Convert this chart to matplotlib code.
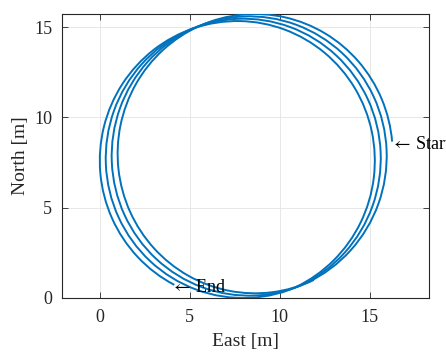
import matplotlib
matplotlib.use('Agg')
import matplotlib.pyplot as plt
from matplotlib.patches import Arc

plt.rcParams['mathtext.fontset'] = 'stix'

# Trajectory: one elliptic arc per lap, the centre
# drifting slightly south-west each lap (laps joined near the bottom-right
# point where all the laps run together).
lap_east = [8.63, 8.30, 7.97, 7.64]      # lap centre, East [m]
lap_north = [7.99, 7.86, 7.73, 7.60]     # lap centre, North [m]
lap_radius_east = [7.64, 7.64, 7.64, 7.64]
lap_radius_north = [7.73, 7.73, 7.73, 7.73]
lap_from_deg = [5.0, -65.0, -65.0, -65.0]
lap_to_deg = [295.0, 295.0, 295.0, 243.0]

start_point = (16.2, 8.5)
end_point = (3.95, 0.6)

x_ticks = [0, 5, 10, 15]
y_ticks = [0, 5, 10, 15]

serif = ['Liberation Serif', 'DejaVu Serif']
line_color = '#0072BD'
dark = '#262626'

fig = plt.figure(figsize=(4.46, 3.52), dpi=100)
ax = fig.add_axes([62 / 446, 54 / 352, 367 / 446, 284 / 352])

for e, n, rx, ry, t1, t2 in zip(lap_east, lap_north, lap_radius_east,
                                 lap_radius_north, lap_from_deg, lap_to_deg):
    ax.add_patch(Arc((e, n), 2 * rx, 2 * ry, theta1=t1, theta2=t2,
                     color=line_color, linewidth=1.4, zorder=3))

ax.text(start_point[0], start_point[1], r'$\leftarrow\,$Start', family=serif,
        fontsize=13, color='black', ha='left', va='center', zorder=4)
ax.text(end_point[0], end_point[1], r'$\leftarrow\,$End', family=serif,
        fontsize=13, color='black', ha='left', va='center', zorder=4)

ax.set_xlim(-2.1, 18.29)
ax.set_ylim(0, 15.72)
ax.set_xticks(x_ticks)
ax.set_yticks(y_ticks)
ax.grid(True, color='#e3e3e3', linewidth=0.6)
ax.set_axisbelow(True)

ax.tick_params(direction='in', length=4, width=0.6, colors=dark,
               labelsize=13, top=True, right=True)
ax.tick_params(axis='x', pad=8)
ax.tick_params(axis='y', pad=7)
for lab in ax.get_xticklabels() + ax.get_yticklabels():
    lab.set_family(serif)
for sp in ax.spines.values():
    sp.set_color(dark)
    sp.set_linewidth(0.8)

ax.set_xlabel('East [m]', family=serif, fontsize=14, color=dark, labelpad=5)
ax.set_ylabel('North [m]', family=serif, fontsize=14, color=dark, labelpad=4)

fig.savefig('out.png', dpi=100)
